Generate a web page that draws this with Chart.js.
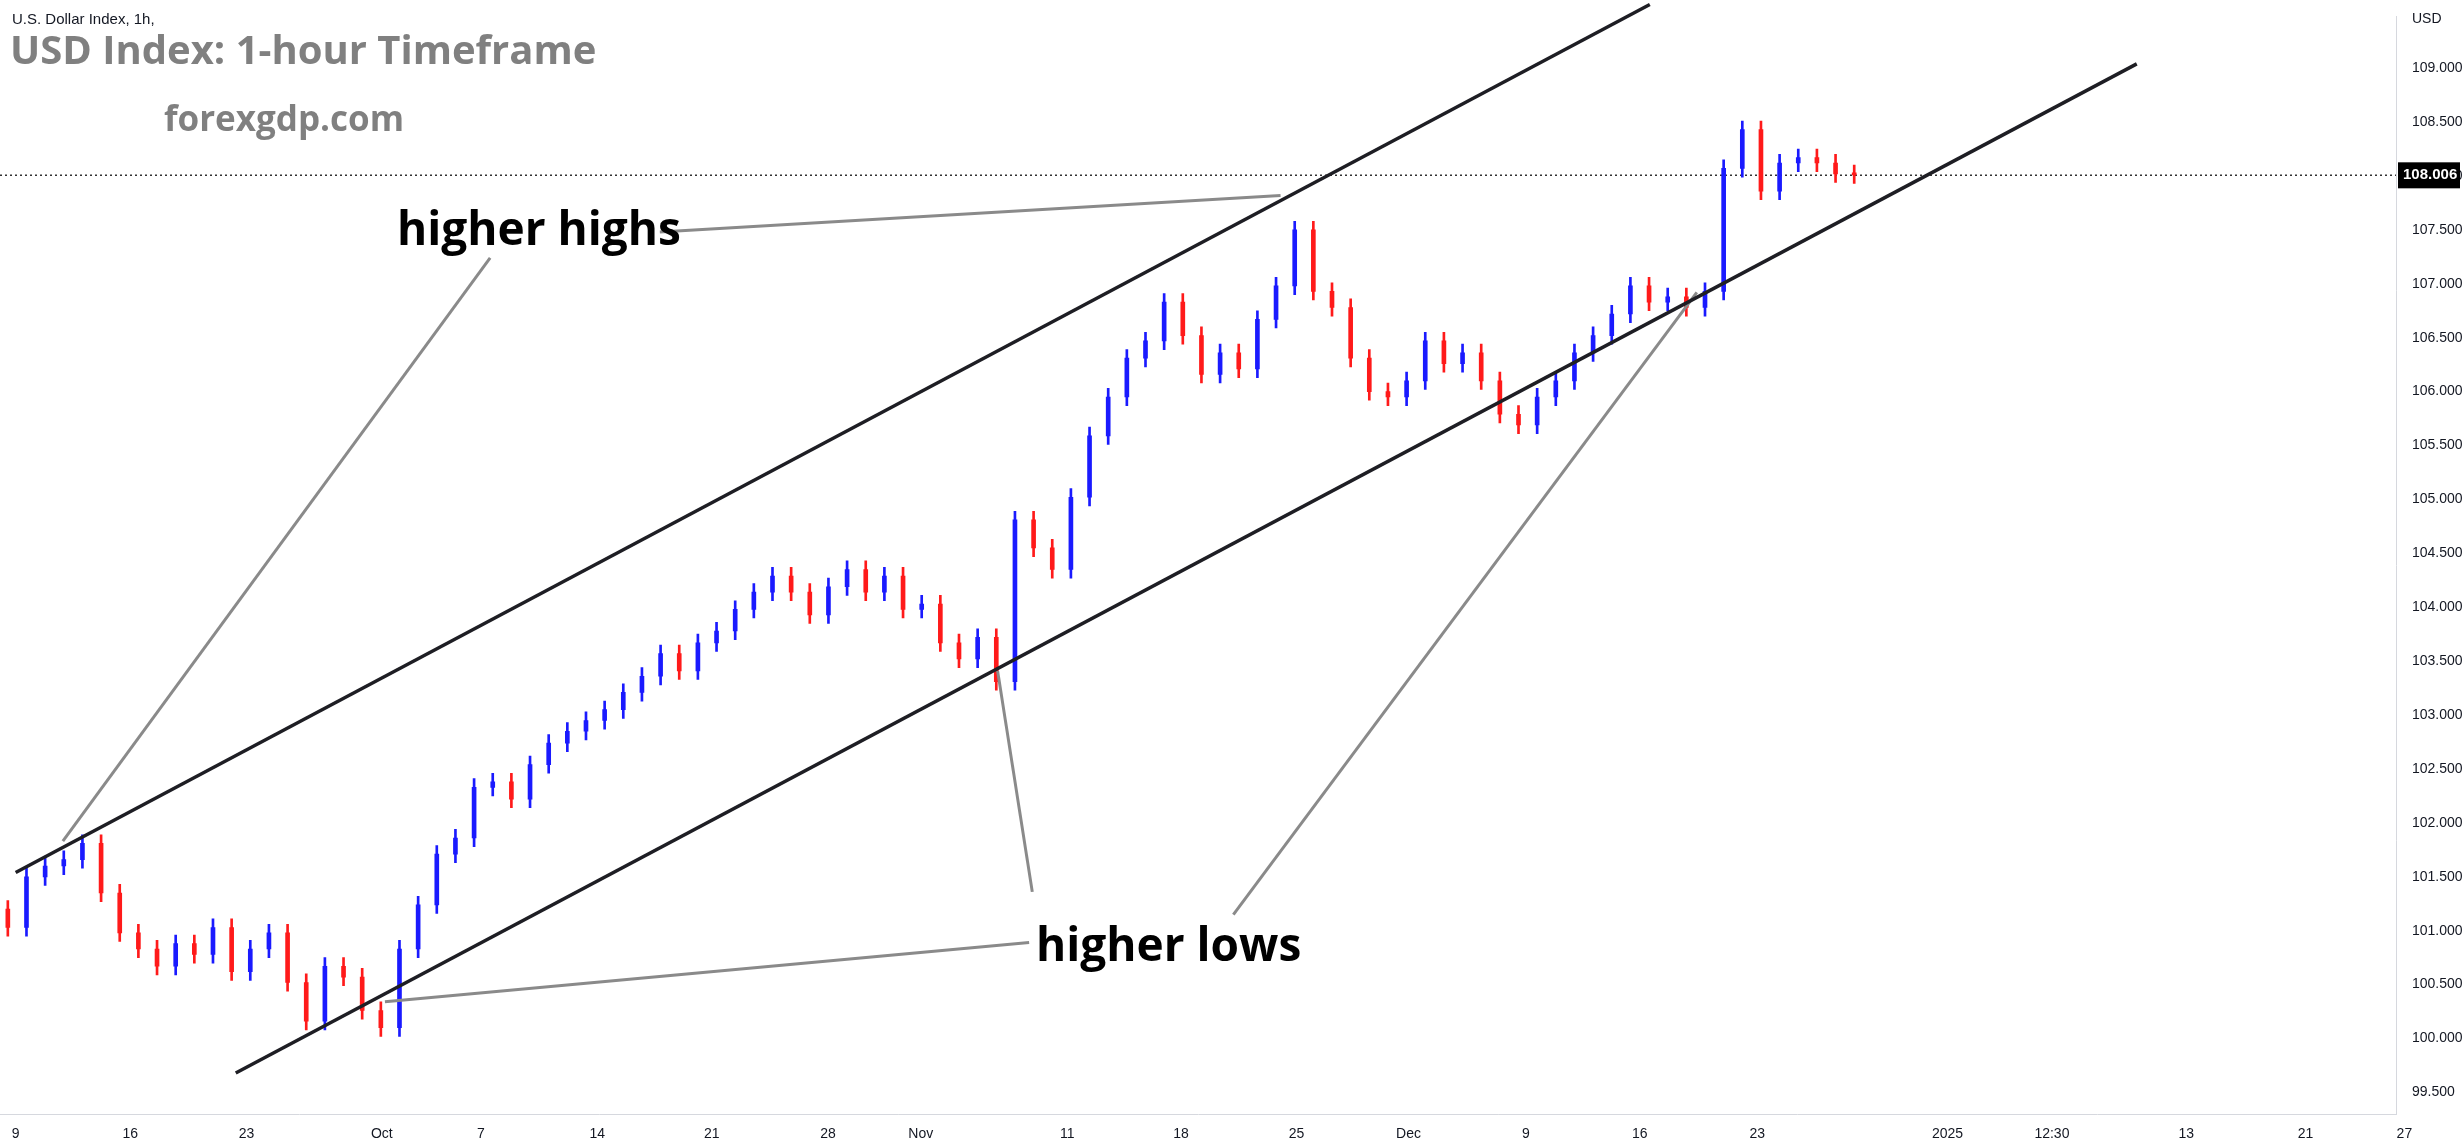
<!DOCTYPE html>
<html><head><meta charset="utf-8">
<script src="https://cdn.jsdelivr.net/npm/chart.js@4/dist/chart.umd.min.js"></script>
<style>html,body{margin:0;padding:0;background:#fff;overflow:hidden}canvas{display:block}</style>
</head><body>
<canvas id="c" width="2464" height="1141"></canvas>
<script>
// Closing prices (approx. every ~5 hours of trading)
const closes = [101.03,101.50,101.60,101.66,101.81,101.35,100.98,100.83,100.67,100.88,
100.78,101.03,100.62,100.83,100.98,100.52,100.16,100.67,100.57,100.26,
100.10,100.83,101.24,101.71,101.86,102.33,102.38,102.22,102.54,102.74,
102.85,102.95,103.05,103.21,103.36,103.57,103.41,103.67,103.78,103.98,
104.14,104.29,104.14,103.93,104.19,104.35,104.14,104.29,103.98,104.03,
103.67,103.52,103.72,103.31,104.81,104.55,104.35,105.02,105.59,105.95,
106.31,106.47,106.83,106.52,106.16,106.36,106.21,106.67,106.98,107.50,
106.93,106.78,106.31,106.00,105.95,106.10,106.47,106.26,106.36,106.10,
105.79,105.69,105.95,106.10,106.36,106.52,106.72,106.98,106.83,106.88,
106.78,106.93,108.07,108.43,107.86,108.12,108.17,108.12,108.02,108.01];
const firstOpen = 101.20;
const lastPrice = 108.006;
// x-axis tick positions (candle index units) and labels
const tickPos = [0.42,6.57,12.8,20.05,25.36,31.6,37.74,43.98,48.95,56.8,62.9,69.1,75.1,81.4,87.5,93.8,104.0,109.6,116.8,123.2,128.5];
const tickLabels = ["9","16","23","Oct","7","14","21","28","Nov","11","18","25","Dec","9","16","23","2025","12:30","13","21","27"];
// trend lines [x1,y1,x2,y2] in data units
const upperChannel = [0.42,101.54,88.04,109.59];
const lowerChannel = [12.22,99.68,114.15,109.04];
const pointerLines = [
 [34.96,107.48,68.24,107.82],
 [25.86,107.24,2.95,101.83],
 [20.22,100.34,54.76,100.89],
 [53.07,103.41,54.93,101.36],
 [65.71,101.15,90.56,106.92]
];
const yTicks = [99.5,100,100.5,101,101.5,102,102.5,103,103.5,104,104.5,105,105.5,106,106.5,107,107.5,108,108.5,109];

const bodies=[],wicks=[],colors=[];
closes.forEach((c,i)=>{
  const o = i===0?firstOpen:closes[i-1];
  const hi = Math.max(o,c)+0.08, lo = Math.min(o,c)-0.08;
  bodies.push({x:i,y:[o,c]}); wicks.push({x:i,y:[lo,hi]});
  colors.push(c>=o?'#1a1aff':'#ff1a1a');
});
const noTopClip={left:0,top:false,right:0,bottom:0};
const seg=(a,col,w)=>({type:'line',data:[{x:a[0],y:a[1]},{x:a[2],y:a[3]}],borderColor:col,borderWidth:w,pointRadius:0,fill:false,order:0,clip:noTopClip});
const datasets=[
 {type:'bar',data:wicks,backgroundColor:colors,barThickness:2,grouped:false,order:2},
 {type:'bar',data:bodies,backgroundColor:colors,barThickness:4,grouped:false,order:1,minBarLength:2},
 seg(upperChannel,'#1e1e24',3.5),
 seg(lowerChannel,'#1e1e24',3.5),
 ...pointerLines.map(p=>seg(p,'#8a8a8a',3)),
 {type:'line',data:[{x:-0.42,y:lastPrice},{x:128.05,y:lastPrice}],borderColor:'#333',borderWidth:1.5,borderDash:[2,3],pointRadius:0,order:3}
];
const overlay={id:'ov',afterDraw(ch){
  const ctx=ch.ctx, ys=ch.scales.y;
  ctx.save();
  ctx.textBaseline='middle';
  ctx.fillStyle='#131722';ctx.font='15px "Liberation Sans Narrow","Liberation Sans"';
  ctx.fillText('U.S. Dollar Index, 1h,',12,20);
  ctx.fillStyle='#808080';ctx.font='bold 40px "Open Sans"';
  ctx.fillText('USD Index: 1-hour Timeframe',10,53);
  ctx.font='bold 35px "Open Sans"';
  ctx.fillText('forexgdp.com',164,121);
  ctx.fillStyle='#000';ctx.font='bold 46px "Open Sans"';
  ctx.fillText('higher highs',397,232);
  ctx.fillText('higher lows',1036,948);
  const py=ys.getPixelForValue(lastPrice);
  ctx.fillStyle='#000';ctx.fillRect(2398,py-13,62,26);
  ctx.fillStyle='#fff';ctx.font='bold 15px "Liberation Sans"';
  ctx.fillText('108.006',2403,py);
  ctx.fillStyle='#131722';ctx.font='14px "Liberation Sans"';
  ctx.fillText('USD',2412,19);
  ctx.restore();
}};
new Chart(document.getElementById('c'),{
 data:{datasets},
 plugins:[overlay],
 options:{responsive:false,animation:false,
  layout:{padding:0},
  plugins:{legend:{display:false},tooltip:{enabled:false}},
  scales:{
   x:{type:'linear',min:-0.42,max:128.05,offset:false,
      grid:{display:false},border:{color:'#d6d8de'},
      afterBuildTicks:s=>{s.ticks=tickPos.map(v=>({value:v}));},
      afterFit:s=>{s.height=27;},
      ticks:{autoSkip:false,maxRotation:0,color:'#131722',font:{size:14,family:'"Liberation Sans Narrow","Liberation Sans"'},padding:4,
        callback:(v,i)=>tickLabels[i]}},
   y:{position:'right',min:99.30,max:109.48,
      grid:{display:false},border:{color:'#d6d8de'},
      afterBuildTicks:s=>{s.ticks=yTicks.map(v=>({value:v}));},
      afterFit:s=>{s.width=68;},
      ticks:{color:'#131722',font:{size:14,family:'"Liberation Sans Narrow","Liberation Sans"'},padding:8,
        callback:v=>Number(v).toFixed(3)}}
  }}
});
</script>
</body></html>
